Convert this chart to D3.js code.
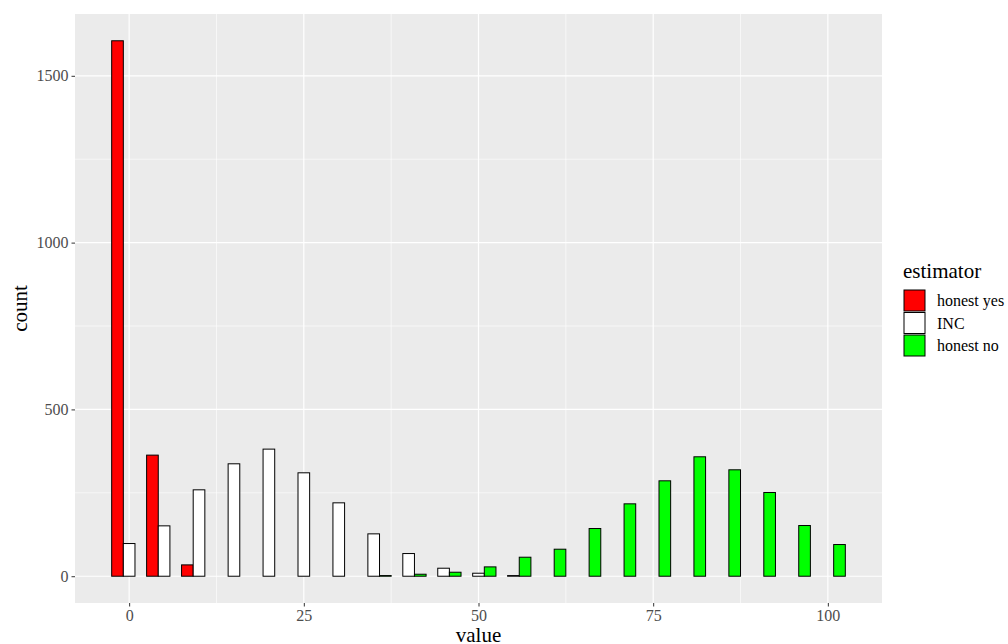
<!DOCTYPE html>
<html>
<head>
<meta charset="utf-8">
<script src="https://cdn.jsdelivr.net/npm/d3@7"></script>
<style>
  body { margin: 0; background: #fff; }
  text { font-family: "Liberation Serif", "DejaVu Serif", serif; }
</style>
</head>
<body>
<svg id="chart"></svg>
<script>
// histogram bins (binwidth 5), counts
var bins = [0,5,10,15,20,25,30,35,40,45,50,55,60,65,70,75,80,85,90,95,100];
var honestYes = [1605,363,34,0,0,0,0,0,0,0,0,0,0,0,0,0,0,0,0,0,0];
var inc = [98,151,259,337,381,310,220,127,68,24,9,2,0,0,0,0,0,0,0,0,0];
var honestNo = [0,0,0,0,0,0,0,2,6,12,28,57,81,143,217,286,358,319,251,152,95];
var groups = ["honest yes", "INC", "honest no"];
var colors = ["#FF0000", "#FFFFFF", "#00FF00"];
var xTicks = [0,25,50,75,100];
var yTicks = [0,500,1000,1500];

var width = 1008, height = 644;
var panel = {left: 75, right: 882, top: 14, bottom: 603};

var svg = d3.select("#chart")
  .attr("width", width)
  .attr("height", height);

var x = d3.scaleLinear().domain([-7.75, 107.75]).range([panel.left, panel.right]);
var y = d3.scaleLinear().domain([-80.25, 1685.25]).range([panel.bottom, panel.top]);

// panel background
svg.append("rect")
  .attr("x", panel.left).attr("y", panel.top)
  .attr("width", panel.right - panel.left)
  .attr("height", panel.bottom - panel.top)
  .attr("fill", "#EBEBEB");

// minor grid
var xMinor = [12.5, 37.5, 62.5, 87.5];
var yMinor = [250, 750, 1250];
svg.selectAll(".xminor").data(xMinor).join("line")
  .attr("x1", d => x(d)).attr("x2", d => x(d))
  .attr("y1", panel.top).attr("y2", panel.bottom)
  .attr("stroke", "#fff").attr("stroke-width", 0.6);
svg.selectAll(".yminor").data(yMinor).join("line")
  .attr("y1", d => y(d)).attr("y2", d => y(d))
  .attr("x1", panel.left).attr("x2", panel.right)
  .attr("stroke", "#fff").attr("stroke-width", 0.6);

// major grid
svg.selectAll(".xmajor").data(xTicks).join("line")
  .attr("x1", d => x(d)).attr("x2", d => x(d))
  .attr("y1", panel.top).attr("y2", panel.bottom)
  .attr("stroke", "#fff").attr("stroke-width", 1.2);
svg.selectAll(".ymajor").data(yTicks).join("line")
  .attr("y1", d => y(d)).attr("y2", d => y(d))
  .attr("x1", panel.left).attr("x2", panel.right)
  .attr("stroke", "#fff").attr("stroke-width", 1.2);

// bars, dodged within each bin
var series = [honestYes, inc, honestNo];
var barData = [];
bins.forEach(function(b, j) {
  series.forEach(function(s, i) {
    barData.push({bin: b, g: i, count: s[j]});
  });
});
var bw = 5 / 3;
svg.append("g").selectAll("rect")
  .data(barData)
  .join("rect")
  .attr("x", d => x(d.bin - 2.5 + d.g * bw))
  .attr("width", d => x(d.bin - 2.5 + (d.g + 1) * bw) - x(d.bin - 2.5 + d.g * bw))
  .attr("y", d => y(d.count))
  .attr("height", d => y(0) - y(d.count))
  .attr("fill", d => colors[d.g])
  .attr("stroke", "#000")
  .attr("stroke-width", 1);

// axes
var xAxis = svg.append("g")
  .attr("transform", "translate(0," + panel.bottom + ")")
  .call(d3.axisBottom(x).tickValues(xTicks).tickFormat(d3.format("d")).tickSize(3.5).tickPadding(3));
var yAxis = svg.append("g")
  .attr("transform", "translate(" + panel.left + ",0)")
  .call(d3.axisLeft(y).tickValues(yTicks).tickFormat(d3.format("d")).tickSize(3.5).tickPadding(3));
[xAxis, yAxis].forEach(function(a) {
  a.select(".domain").remove();
  a.selectAll(".tick line").attr("stroke", "#333");
  a.selectAll(".tick text")
    .attr("fill", "#4D4D4D")
    .style("font-size", "16px")
    .style("font-family", "Liberation Serif, serif");
});

// axis titles
svg.append("text")
  .attr("x", x(50)).attr("y", 642)
  .attr("text-anchor", "middle")
  .style("font-size", "21px")
  .text("value");
svg.append("text")
  .attr("transform", "translate(27," + ((panel.top + panel.bottom) / 2) + ") rotate(-90)")
  .attr("text-anchor", "middle")
  .style("font-size", "21px")
  .text("count");

// legend
var legend = svg.append("g").attr("transform", "translate(903,0)");
legend.append("text")
  .attr("x", 0).attr("y", 278)
  .style("font-size", "21px")
  .text("estimator");
var keys = legend.selectAll(".key").data(groups).join("g")
  .attr("transform", (d, i) => "translate(1," + (290 + i * 22.5) + ")");
keys.append("rect")
  .attr("width", 21).attr("height", 21)
  .attr("fill", (d, i) => colors[i])
  .attr("stroke", "#000").attr("stroke-width", 1);
keys.append("text")
  .attr("x", 33).attr("y", 16)
  .style("font-size", "16px")
  .text(d => d);
</script>
</body>
</html>
